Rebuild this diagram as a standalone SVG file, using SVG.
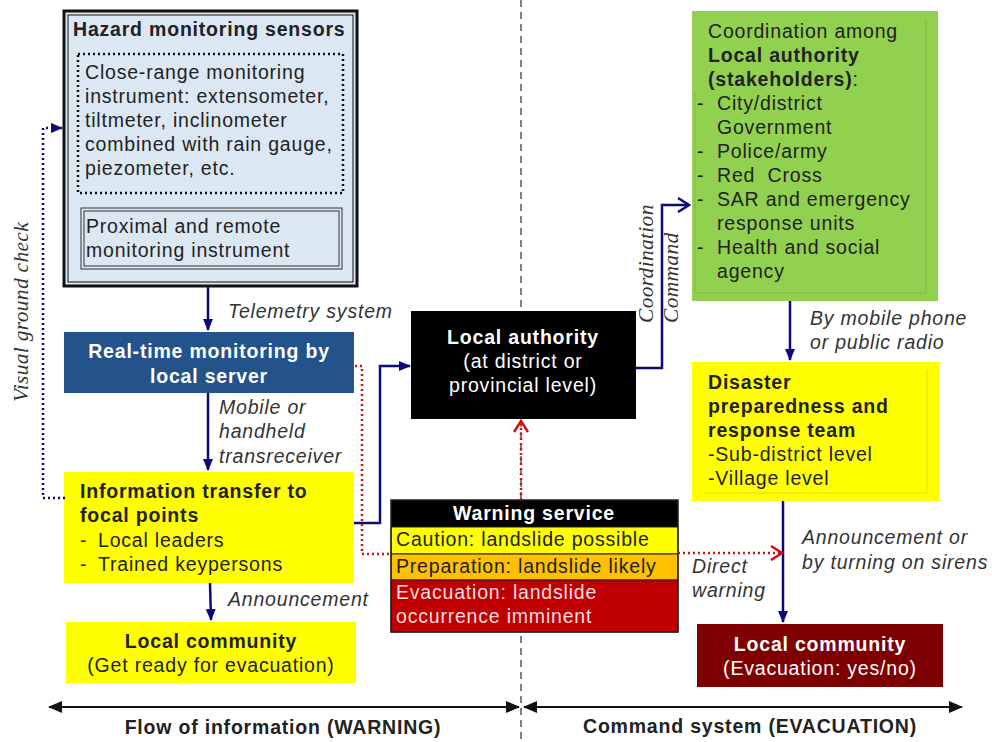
<svg xmlns="http://www.w3.org/2000/svg" width="992" height="742" viewBox="0 0 992 742">
<style>
  .t{font-family:"Liberation Sans",Arial,sans-serif;font-size:19.5px;letter-spacing:0.8px;fill:#222}
  .b{font-weight:bold}
  .w{fill:#fff}
  .i{font-family:"Liberation Sans",Arial,sans-serif;font-style:italic;font-size:19.5px;letter-spacing:0.8px;fill:#333}
  .s{font-family:"Liberation Serif","Times New Roman",serif;font-style:italic;font-size:21.5px;letter-spacing:0.3px;fill:#333}
  .nav{fill:none;stroke:#0a0a78;stroke-width:2.5}
  .red{fill:none;stroke:#d01010;stroke-width:2.5;stroke-dasharray:2 3}
  .bk{fill:none;stroke:#111;stroke-width:2}
</style>
<defs>
  <marker id="nv" markerUnits="userSpaceOnUse" markerWidth="12" markerHeight="12" refX="11" refY="6" orient="auto">
    <path d="M0,1 L12,6 L0,11 z" fill="#0a0a78"/>
  </marker>
  <marker id="nvo" markerUnits="userSpaceOnUse" markerWidth="14" markerHeight="16" refX="12" refY="8" orient="auto">
    <path d="M1,1 L12,8 L1,15" fill="none" stroke="#0a0a78" stroke-width="2.5"/>
  </marker>
  <marker id="ro" markerUnits="userSpaceOnUse" markerWidth="14" markerHeight="16" refX="12" refY="8" orient="auto">
    <path d="M1,1 L12,8 L1,15" fill="none" stroke="#d01010" stroke-width="2.5"/>
  </marker>
  <marker id="bkh" markerUnits="userSpaceOnUse" markerWidth="14" markerHeight="12" refX="13" refY="6" orient="auto-start-reverse">
    <path d="M0,0 L14,6 L0,12 z" fill="#111"/>
  </marker>
</defs>
<rect width="992" height="742" fill="#fff"/>

<!-- dashed divider -->
<line x1="521" y1="0" x2="521" y2="742" stroke="#555" stroke-width="1.5" stroke-dasharray="7 5"/>

<g id="hazard">
  <rect x="64" y="11" width="293" height="275" fill="#dce7f4" stroke="#111" stroke-width="3"/>
  <rect x="68" y="15" width="285" height="267" fill="none" stroke="#111" stroke-width="1"/>
  <text class="t b" x="73" y="36">Hazard monitoring sensors</text>
  <rect x="78" y="54" width="265" height="139" fill="none" stroke="#111" stroke-width="2.5" stroke-dasharray="2 3"/>
  <text class="t" x="85" y="79">Close-range monitoring</text>
  <text class="t" x="85" y="103">instrument: extensometer,</text>
  <text class="t" x="85" y="127">tiltmeter, inclinometer</text>
  <text class="t" x="85" y="151">combined with rain gauge,</text>
  <text class="t" x="85" y="175">piezometer, etc.</text>
  <rect x="81" y="208" width="261" height="61" fill="none" stroke="#333" stroke-width="1"/>
  <rect x="84" y="211" width="255" height="55" fill="none" stroke="#333" stroke-width="1"/>
  <text class="t" x="86" y="233">Proximal and remote</text>
  <text class="t" x="86" y="257">monitoring instrument</text>
</g>

<g id="realtime">
  <rect x="64" y="332" width="290" height="61" fill="#24538b"/>
  <text class="t b w" x="209" y="358" text-anchor="middle">Real-time monitoring by</text>
  <text class="t b w" x="209" y="383" text-anchor="middle">local server</text>
</g>

<g id="infotransfer">
  <rect x="64" y="472" width="290" height="111" fill="#ffff00"/>
  <text class="t b" x="80" y="498">Information transfer to</text>
  <text class="t b" x="80" y="522">focal points</text>
  <text class="t" x="80" y="547">-</text><text class="t" x="98" y="547">Local leaders</text>
  <text class="t" x="80" y="571">-</text><text class="t" x="98" y="571">Trained keypersons</text>
</g>

<g id="community-left">
  <rect x="66" y="622" width="290" height="61" fill="#ffff00"/>
  <text class="t b" x="211" y="648" text-anchor="middle">Local community</text>
  <text class="t" x="211" y="672" text-anchor="middle">(Get ready for evacuation)</text>
</g>

<g id="authority">
  <rect x="411" y="311" width="225" height="108" fill="#000"/>
  <text class="t b w" x="523" y="344" text-anchor="middle">Local authority</text>
  <text class="t w" x="523" y="368" text-anchor="middle">(at district or</text>
  <text class="t w" x="523" y="392" text-anchor="middle">provincial level)</text>
</g>

<g id="warning">
  <rect x="391" y="500" width="287" height="27" fill="#000"/>
  <rect x="391" y="527" width="287" height="27" fill="#ffff00" stroke="#222" stroke-width="1"/>
  <rect x="391" y="554" width="287" height="26" fill="#ffc000" stroke="#222" stroke-width="1"/>
  <rect x="391" y="580" width="287" height="52" fill="#c00000" stroke="#222" stroke-width="1"/>
  <rect x="391" y="500" width="287" height="132" fill="none" stroke="#222" stroke-width="1.5"/>
  <text class="t b w" x="534" y="520" text-anchor="middle">Warning service</text>
  <text class="t" x="396" y="546">Caution: landslide possible</text>
  <text class="t" x="396" y="573">Preparation: landslide likely</text>
  <text class="t" x="396" y="599" style="fill:#f8dede">Evacuation: landslide</text>
  <text class="t" x="396" y="623" style="fill:#f8dede">occurrence imminent</text>
</g>

<g id="stakeholders">
  <rect x="692" y="11" width="246" height="290" fill="#92d050"/>
  <path d="M695,92 L695,293 L926,293 L926,19" fill="none" stroke="#7fb845" stroke-width="1"/>
  <text class="t" x="708" y="38">Coordination among</text>
  <text class="t b" x="708" y="62">Local authority</text>
  <text class="t" x="708" y="86"><tspan font-weight="bold">(stakeholders)</tspan>:</text>
  <text class="t" x="697" y="110">-</text><text class="t" x="717" y="110">City/district</text>
  <text class="t" x="717" y="134">Government</text>
  <text class="t" x="697" y="158">-</text><text class="t" x="717" y="158">Police/army</text>
  <text class="t" x="697" y="182">-</text><text class="t" x="717" y="182">Red&#160; Cross</text>
  <text class="t" x="697" y="206">-</text><text class="t" x="717" y="206">SAR and emergency</text>
  <text class="t" x="717" y="230">response units</text>
  <text class="t" x="697" y="254">-</text><text class="t" x="717" y="254">Health and social</text>
  <text class="t" x="717" y="278">agency</text>
</g>

<g id="team">
  <rect x="692" y="362" width="247" height="139" fill="#ffff00"/>
  <path d="M704,493 L927,493 L927,370" fill="none" stroke="#e0e000" stroke-width="1"/>
  <text class="t b" x="708" y="389">Disaster</text>
  <text class="t b" x="708" y="413">preparedness and</text>
  <text class="t b" x="708" y="437">response team</text>
  <text class="t" x="708" y="461">-Sub-district level</text>
  <text class="t" x="708" y="485">-Village level</text>
</g>

<g id="community-right">
  <rect x="697" y="624" width="246" height="63" fill="#7f0000"/>
  <text class="t b w" x="820" y="651" text-anchor="middle">Local community</text>
  <text class="t w" x="820" y="675" text-anchor="middle">(Evacuation: yes/no)</text>
</g>

<g id="connectors">
  <path class="nav" d="M208,287 L208,330" marker-end="url(#nv)"/>
  <path class="nav" d="M208,393 L208,470" marker-end="url(#nv)"/>
  <path class="nav" d="M210,583 L211,620" marker-end="url(#nv)"/>
  <path class="nav" d="M354,523 L380,523 L380,366 L410,366" marker-end="url(#nv)"/>
  <path class="nav" d="M636,368 L662,368 L662,205 L689,205" marker-end="url(#nvo)"/>
  <path class="nav" d="M790,301 L790,360" marker-end="url(#nv)"/>
  <path class="nav" d="M783,501 L783,622" marker-end="url(#nv)"/>
  <path fill="none" stroke="#0a0a78" stroke-width="2.5" stroke-dasharray="2 3" d="M65,498 L43,498 L43,128 L62,128" marker-end="url(#nv)"/>
  <path class="red" d="M355,366 L362,366 L362,554 L391,554"/>
  <path class="red" d="M678,553 L782,553" marker-end="url(#ro)"/>
  <path class="red" d="M521,500 L521,421" marker-end="url(#ro)"/>
  <path class="bk" d="M49,707 L519,707" marker-start="url(#bkh)" marker-end="url(#bkh)"/>
  <path class="bk" d="M524,707 L962,707" marker-start="url(#bkh)" marker-end="url(#bkh)"/>
</g>

<g id="labels">
  <text class="i" x="228" y="318">Telemetry system</text>
  <text class="i" x="219" y="414">Mobile or</text>
  <text class="i" x="219" y="438">handheld</text>
  <text class="i" x="219" y="463">transreceiver</text>
  <text class="i" x="228" y="606">Announcement</text>
  <text class="i" x="810" y="325">By mobile phone</text>
  <text class="i" x="810" y="349">or public radio</text>
  <text class="i" x="802" y="544">Announcement or</text>
  <text class="i" x="802" y="569">by turning on sirens</text>
  <text class="i" x="692" y="573">Direct</text>
  <text class="i" x="692" y="597">warning</text>
  <text class="s" transform="translate(28,312) rotate(-90)" text-anchor="middle">Visual ground check</text>
  <text class="s" transform="translate(653,323) rotate(-90)">Coordination</text>
  <text class="s" transform="translate(678,323) rotate(-90)">Command</text>
  <text class="t b" x="283" y="734" text-anchor="middle">Flow of information (WARNING)</text>
  <text class="t b" x="750" y="733" text-anchor="middle">Command system (EVACUATION)</text>
</g>
</svg>
